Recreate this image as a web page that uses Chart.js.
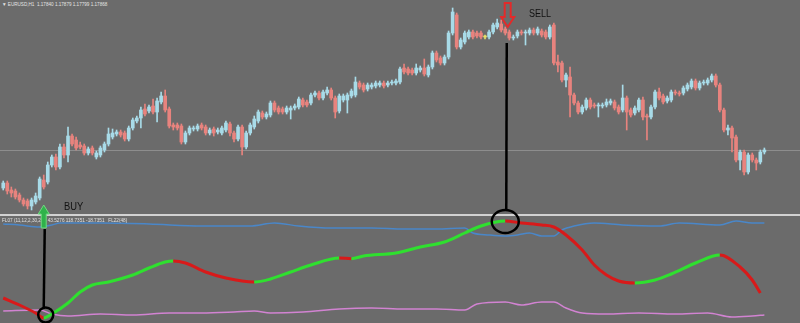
<!DOCTYPE html>
<html>
<head>
<meta charset="utf-8">
<script src="https://cdn.jsdelivr.net/npm/chart.js@4/dist/chart.umd.min.js"></script>
<style>
html, body { margin: 0; padding: 0; background: #6b6b6b; overflow: hidden; }
#wrap { position: relative; width: 800px; height: 323px; background: #6b6b6b; font-family: "Liberation Sans", Arial, sans-serif; }
#lower { position: absolute; left: 0; top: 216px; z-index: 1; }
#sep { position: absolute; left: 0; top: 214px; width: 800px; height: 2px; background: #d2d2d2; z-index: 1; }
#upper { position: absolute; left: 0; top: 0; z-index: 3; }
.lbl { position: absolute; white-space: nowrap; line-height: 1; transform-origin: left top; }
#title { left: 2px; top: 2px; font-size: 5px; color: #e4e4e4; z-index: 2; transform: scaleX(0.92); }
#ind { left: 2px; top: 218px; font-size: 5px; color: #e0e0e0; z-index: 2; transform: scaleX(0.93); }
#buy { left: 64px; top: 201px; font-size: 11px; color: #111; z-index: 4; transform: scaleX(0.85); }
#sell { left: 529px; top: 9px; font-size: 10px; color: #111; z-index: 4; transform: scaleX(0.9); }
</style>
</head>
<body>
<div id="wrap">
  <div id="title" class="lbl">▼ EURUSD,H1&nbsp; 1.17840 1.17879 1.17799 1.17868</div>
  <canvas id="lower" width="800" height="107"></canvas>
  <div id="sep"></div>
  <div id="ind" class="lbl">FL07 (11,12,2,30,2,5) 43.5276 118.7351 -18.7351&nbsp;&nbsp; FL22(48)</div>
  <canvas id="upper" width="800" height="323"></canvas>
  <div id="buy" class="lbl">BUY</div>
  <div id="sell" class="lbl">SELL</div>
</div>
<script>
// EURUSD H1 candles, one entry per bar
var candleOpen = [
  1.1749,1.1754,1.1747,1.1746,1.1742,1.1737,1.1736,1.1731,1.1735,1.1739,
  1.1757,1.1755,1.1772,1.1780,1.1770,1.1790,1.1782,1.1801,1.1797,1.1792,
  1.1791,1.1784,1.1789,1.1780,1.1782,1.1787,1.1793,1.1800,1.1803,1.1805,
  1.1804,1.1798,1.1809,1.1816,1.1819,1.1828,1.1826,1.1831,1.1825,1.1835,
  1.1841,1.1828,1.1812,1.1812,1.1811,1.1795,1.1804,1.1808,1.1808,1.1812,
  1.1810,1.1804,1.1808,1.1805,1.1804,1.1807,1.1813,1.1804,1.1798,1.1810,
  1.1790,1.1804,1.1810,1.1816,1.1824,1.1820,1.1822,1.1834,1.1829,1.1828,
  1.1825,1.1827,1.1829,1.1830,1.1837,1.1835,1.1834,1.1842,1.1844,1.1839,
  1.1844,1.1847,1.1839,1.1826,1.1837,1.1837,1.1841,1.1842,1.1854,1.1852,
  1.1848,1.1850,1.1851,1.1852,1.1854,1.1852,1.1854,1.1854,1.1855,1.1869,
  1.1868,1.1867,1.1864,1.1867,1.1869,1.1862,1.1870,1.1884,1.1879,1.1874,
  1.1880,1.1904,1.1922,1.1890,1.1895,1.1900,1.1905,1.1904,1.1904,1.1900,
  1.1900,1.1905,1.1910,1.1913,1.1908,1.1905,1.1899,1.1901,1.1905,1.1904,
  1.1904,1.1907,1.1904,1.1906,1.1905,1.1900,1.1912,1.1875,1.1874,1.1857,
  1.1860,1.1842,1.1834,1.1825,1.1829,1.1837,1.1832,1.1831,1.1831,1.1832,
  1.1834,1.1835,1.1830,1.1827,1.1839,1.1827,1.1824,1.1827,1.1837,1.1821,
  1.1820,1.1830,1.1845,1.1841,1.1836,1.1837,1.1845,1.1844,1.1844,1.1848,
  1.1850,1.1856,1.1849,1.1854,1.1854,1.1857,1.1861,1.1852,1.1827,1.1807,
  1.1809,1.1800,1.1777,1.1785,1.1765,1.1782,1.1777,1.1775,1.1785
];
var candleHigh = [
  1.1756,1.1756,1.1750,1.1748,1.1744,1.1739,1.1738,1.1739,1.1744,1.1760,
  1.1762,1.1775,1.1782,1.1783,1.1793,1.1793,1.1810,1.1803,1.1800,1.1795,
  1.1793,1.1790,1.1791,1.1786,1.1791,1.1795,1.1809,1.1808,1.1807,1.1807,
  1.1806,1.1811,1.1819,1.1821,1.1830,1.1833,1.1832,1.1838,1.1839,1.1845,
  1.1847,1.1830,1.1814,1.1814,1.1813,1.1806,1.1811,1.1811,1.1813,1.1814,
  1.1812,1.1809,1.1810,1.1809,1.1811,1.1816,1.1815,1.1806,1.1812,1.1812,
  1.1806,1.1814,1.1821,1.1827,1.1826,1.1825,1.1836,1.1836,1.1831,1.1830,
  1.1831,1.1831,1.1833,1.1840,1.1839,1.1837,1.1844,1.1846,1.1846,1.1847,
  1.1850,1.1849,1.1841,1.1843,1.1843,1.1844,1.1848,1.1860,1.1856,1.1854,
  1.1854,1.1854,1.1856,1.1856,1.1856,1.1856,1.1857,1.1858,1.1870,1.1873,
  1.1870,1.1869,1.1873,1.1871,1.1878,1.1872,1.1886,1.1886,1.1881,1.1882,
  1.1906,1.1929,1.1924,1.1899,1.1906,1.1907,1.1907,1.1906,1.1906,1.1902,
  1.1907,1.1914,1.1918,1.1917,1.1910,1.1907,1.1902,1.1907,1.1907,1.1907,
  1.1909,1.1909,1.1910,1.1908,1.1907,1.1912,1.1914,1.1882,1.1876,1.1864,
  1.1870,1.1844,1.1836,1.1832,1.1839,1.1839,1.1834,1.1834,1.1834,1.1838,
  1.1838,1.1837,1.1832,1.1852,1.1841,1.1829,1.1831,1.1839,1.1840,1.1823,
  1.1832,1.1847,1.1849,1.1843,1.1841,1.1847,1.1847,1.1846,1.1851,1.1854,
  1.1858,1.1858,1.1856,1.1857,1.1859,1.1863,1.1863,1.1854,1.1829,1.1812,
  1.1811,1.1802,1.1787,1.1787,1.1784,1.1784,1.1779,1.1787,1.1789
];
var candleLow = [
  1.1747,1.1743,1.1740,1.1738,1.1735,1.1731,1.1728,1.1727,1.1733,1.1737,
  1.1748,1.1753,1.1770,1.1767,1.1768,1.1779,1.1775,1.1791,1.1787,1.1788,
  1.1782,1.1782,1.1782,1.1778,1.1780,1.1785,1.1791,1.1798,1.1801,1.1800,
  1.1796,1.1796,1.1807,1.1814,1.1809,1.1821,1.1824,1.1823,1.1815,1.1833,
  1.1825,1.1809,1.1807,1.1807,1.1793,1.1793,1.1802,1.1806,1.1806,1.1807,
  1.1802,1.1802,1.1801,1.1803,1.1802,1.1805,1.1801,1.1795,1.1796,1.1782,
  1.1788,1.1802,1.1808,1.1814,1.1818,1.1818,1.1820,1.1825,1.1823,1.1823,
  1.1823,1.1818,1.1827,1.1828,1.1830,1.1830,1.1832,1.1840,1.1837,1.1837,
  1.1842,1.1837,1.1819,1.1824,1.1835,1.1824,1.1839,1.1840,1.1848,1.1845,
  1.1846,1.1848,1.1849,1.1850,1.1849,1.1850,1.1852,1.1852,1.1853,1.1863,
  1.1862,1.1862,1.1862,1.1865,1.1861,1.1860,1.1868,1.1875,1.1872,1.1872,
  1.1878,1.1902,1.1888,1.1888,1.1893,1.1898,1.1898,1.1899,1.1898,1.1898,
  1.1898,1.1903,1.1908,1.1905,1.1902,1.1897,1.1897,1.1899,1.1902,1.1892,
  1.1902,1.1902,1.1902,1.1900,1.1898,1.1898,1.1872,1.1865,1.1855,1.1850,
  1.1820,1.1832,1.1823,1.1823,1.1827,1.1828,1.1829,1.1820,1.1829,1.1830,
  1.1832,1.1827,1.1823,1.1825,1.1807,1.1820,1.1822,1.1825,1.1817,1.1797,
  1.1818,1.1828,1.1837,1.1833,1.1834,1.1835,1.1842,1.1841,1.1842,1.1846,
  1.1848,1.1847,1.1847,1.1852,1.1852,1.1855,1.1850,1.1825,1.1805,1.1802,
  1.1785,1.1775,1.1767,1.1762,1.1763,1.1775,1.1767,1.1773,1.1783
];
var candleClose = [
  1.1754,1.1746,1.1744,1.1740,1.1737,1.1733,1.1731,1.1737,1.1741,1.1758,
  1.1750,1.1772,1.1780,1.1770,1.1790,1.1782,1.1801,1.1793,1.1789,1.1790,
  1.1784,1.1788,1.1784,1.1784,1.1789,1.1793,1.1803,1.1804,1.1805,1.1802,
  1.1798,1.1809,1.1817,1.1819,1.1827,1.1823,1.1830,1.1825,1.1836,1.1841,
  1.1827,1.1811,1.1810,1.1809,1.1795,1.1804,1.1809,1.1809,1.1811,1.1809,
  1.1804,1.1807,1.1804,1.1807,1.1809,1.1814,1.1804,1.1798,1.1810,1.1790,
  1.1804,1.1812,1.1818,1.1825,1.1820,1.1823,1.1834,1.1827,1.1825,1.1825,
  1.1829,1.1829,1.1831,1.1838,1.1832,1.1832,1.1842,1.1844,1.1839,1.1845,
  1.1847,1.1839,1.1825,1.1841,1.1841,1.1842,1.1846,1.1855,1.1850,1.1847,
  1.1852,1.1852,1.1854,1.1854,1.1851,1.1854,1.1855,1.1856,1.1868,1.1865,
  1.1864,1.1864,1.1869,1.1869,1.1863,1.1870,1.1884,1.1877,1.1874,1.1880,
  1.1904,1.1925,1.1890,1.1897,1.1904,1.1905,1.1900,1.1901,1.1900,1.1900,
  1.1905,1.1912,1.1914,1.1907,1.1904,1.1899,1.1900,1.1905,1.1904,1.1905,
  1.1907,1.1904,1.1908,1.1902,1.1900,1.1910,1.1874,1.1872,1.1857,1.1862,
  1.1842,1.1834,1.1825,1.1830,1.1837,1.1830,1.1831,1.1832,1.1832,1.1835,
  1.1836,1.1829,1.1825,1.1839,1.1825,1.1822,1.1829,1.1837,1.1820,1.1820,
  1.1830,1.1845,1.1839,1.1835,1.1839,1.1845,1.1844,1.1843,1.1849,1.1852,
  1.1856,1.1849,1.1854,1.1855,1.1857,1.1861,1.1852,1.1827,1.1807,1.1809,
  1.1799,1.1777,1.1785,1.1765,1.1782,1.1777,1.1774,1.1785,1.1787
];

// lower pane indicator, sampled at bar numbers
var mainBars = [0,4,8,10,12, 16,19,22,26,32, 36,40,42,45,50, 55,62,66,71,76,
  83,86,89,97,103, 109,114,118,124,128, 133,136,139,143,146, 149,152,156,161,165, 171,177,182,185,187];
var mainValues = [7,-3.5,-15.5,-23,-17, -0.5,16,26.5,31,41.5, 52,61,62.5,59.5,46, 37,31,35.5,46,56.5,
  67,66,70,74.5,83.5, 91,104.5,115,122.5,119.5, 116.5,113.5,101.5,79,56.5, 41.5,32.5,29.5,34,43, 59.5,71.5,53.5,34,14.5];
var blueBars = [0,4,9,12,14, 24,36,49,61,67, 73,81,91,99,107, 114,116,120,124,127,
  130,133,136,138,141, 146,153,162,167,177, 181,185,188];
var blueValues = [118,116.5,113.5,116.5,119.5, 119.5,118,115,115,119.5, 115,112,112,110.5,110.5, 112,104.5,101.5,100,101.5,
  104.5,100,100,109,115, 119.5,116.5,115,119.5,116.5, 122.5,119.5,119.5];
var pinkBars = [0,9,12,16,24, 32,41,49,57,62, 66,74,83,91,99, 107,114,117,124,128,
  133,136,139,143,149, 157,166,174,180,185, 188];
var pinkValues = [-12.5,-11,-17,-20,-17, -18.5,-15.5,-15.5,-14,-12.5, -15.5,-14,-9.5,-8,-9.5, -9.5,-11,-2,1,-3.5,
  1,1,-8,-15.5,-17, -15.5,-17,-15.5,-21.5,-20, -18.5];

var buyBar = 10;
var sellBar = 124;

var upColor = '#a8dbe8';
var downColor = '#e8837e';
var dojiColor = '#e6df6a';
var lineUp = '#2fe02f';
var lineDown = '#d81a1a';

function points(bars, values) {
    return bars.map(function (b, i) { return { x: b, y: values[i] }; });
}

var candleColors = candleOpen.map(function (o, i) {
    if (candleClose[i] > o) return upColor;
    if (candleClose[i] < o) return downColor;
    return dojiColor;
});
var bodies = candleOpen.map(function (o, i) { return { x: i, y: [o, candleClose[i]] }; });
var wicks = candleLow.map(function (l, i) { return { x: i, y: [l, candleHigh[i]] }; });

var xRange = { min: -0.8, max: 196.8 };

var lowerChart = new Chart(document.getElementById('lower').getContext('2d'), {
    type: 'line',
    data: {
        datasets: [{
            data: points(mainBars, mainValues),
            borderWidth: 3,
            borderColor: lineUp,
            segment: {
                borderColor: function (c) { return c.p1.parsed.y < c.p0.parsed.y ? lineDown : lineUp; }
            },
            cubicInterpolationMode: 'monotone'
        }, {
            data: points(blueBars, blueValues),
            borderWidth: 1.5,
            borderColor: '#4a87c9',
            cubicInterpolationMode: 'monotone'
        }, {
            data: points(pinkBars, pinkValues),
            borderWidth: 1.5,
            borderColor: '#d283d2',
            cubicInterpolationMode: 'monotone'
        }]
    },
    options: {
        responsive: false,
        animation: false,
        layout: { padding: 0 },
        elements: { point: { radius: 0 } },
        plugins: { legend: { display: false }, tooltip: { enabled: false } },
        scales: {
            x: { type: 'linear', display: false, min: xRange.min, max: xRange.max },
            y: { display: false, min: -30.5, max: 130 }
        }
    }
});

var bidLine = {
    id: 'bidLine',
    beforeDatasetsDraw: function (chart) {
        var ctx = chart.ctx, a = chart.chartArea;
        var y = Math.round(chart.scales.y.getPixelForValue(candleClose[candleClose.length - 1])) + 0.5;
        ctx.save();
        ctx.strokeStyle = '#8d8d8d';
        ctx.lineWidth = 1;
        ctx.beginPath();
        ctx.moveTo(a.left, y);
        ctx.lineTo(a.right, y);
        ctx.stroke();
        ctx.restore();
    }
};

// hand drawn marks: arrows, guide lines and circles
var signalMarks = {
    id: 'signalMarks',
    afterDraw: function (chart) {
        var ctx = chart.ctx, xs = chart.scales.x, ys = chart.scales.y;
        var lx = lowerChart.scales.x, ly = lowerChart.scales.y;
        var lowerTop = 216;
        ctx.save();

        // sell arrow above the top
        var ax = xs.getPixelForValue(sellBar + 0.6);
        var tip = ys.getPixelForValue(candleHigh[sellBar]);
        ctx.beginPath();
        ctx.moveTo(ax - 3, tip - 24);
        ctx.lineTo(ax + 3, tip - 24);
        ctx.lineTo(ax + 3, tip - 10);
        ctx.lineTo(ax + 6.5, tip - 10);
        ctx.lineTo(ax, tip);
        ctx.lineTo(ax - 6.5, tip - 10);
        ctx.lineTo(ax - 3, tip - 10);
        ctx.closePath();
        ctx.strokeStyle = '#e32a2a';
        ctx.lineWidth = 2;
        ctx.stroke();

        // sell guide line and circle
        var scx = lx.getPixelForValue(sellBar);
        var scy = lowerTop + ly.getPixelForValue(mainValues[mainBars.indexOf(sellBar)]);
        ctx.strokeStyle = '#000';
        ctx.lineWidth = 2.5;
        ctx.beginPath();
        ctx.moveTo(xs.getPixelForValue(sellBar) + 1.5, ys.getPixelForValue(candleLow[sellBar + 1]) + 3);
        ctx.lineTo(scx + 1, scy - 11.5);
        ctx.stroke();
        ctx.beginPath();
        ctx.ellipse(scx, scy + 0.5, 13.5, 11.5, 0, 0, Math.PI * 2);
        ctx.stroke();

        // buy arrow
        var bx = xs.getPixelForValue(buyBar);
        var base = chart.chartArea.bottom;
        ctx.beginPath();
        ctx.moveTo(bx, base - 9);
        ctx.lineTo(bx + 5.5, base);
        ctx.lineTo(bx + 2.5, base);
        ctx.lineTo(bx + 2.5, base + 14);
        ctx.lineTo(bx - 2.5, base + 14);
        ctx.lineTo(bx - 2.5, base);
        ctx.lineTo(bx - 5.5, base);
        ctx.closePath();
        ctx.fillStyle = '#2fb24a';
        ctx.fill();
        ctx.strokeStyle = '#72d882';
        ctx.lineWidth = 1;
        ctx.stroke();

        // buy guide line and circle
        var bcx = lx.getPixelForValue(buyBar) + 2;
        var bcy = lowerTop + ly.getPixelForValue(mainValues[mainBars.indexOf(buyBar)]) - 3;
        ctx.strokeStyle = '#000';
        ctx.lineWidth = 2.5;
        ctx.beginPath();
        ctx.moveTo(bx + 1, base + 15);
        ctx.lineTo(bcx - 2, bcy - 7.5);
        ctx.stroke();
        ctx.beginPath();
        ctx.arc(bcx, bcy, 7.5, 0, Math.PI * 2);
        ctx.stroke();

        ctx.restore();
    }
};

var upperChart = new Chart(document.getElementById('upper').getContext('2d'), {
    type: 'bar',
    data: {
        datasets: [{
            data: bodies,
            backgroundColor: candleColors,
            grouped: false,
            categoryPercentage: 1,
            barPercentage: 1,
            maxBarThickness: 3,
            minBarLength: 1
        }, {
            data: wicks,
            backgroundColor: candleColors,
            grouped: false,
            categoryPercentage: 1,
            barPercentage: 1,
            maxBarThickness: 1
        }]
    },
    options: {
        responsive: false,
        animation: false,
        layout: { padding: { left: 0, right: 0, top: 0, bottom: 109 } },
        plugins: { legend: { display: false }, tooltip: { enabled: false } },
        scales: {
            x: { type: 'linear', display: false, offset: false, min: xRange.min, max: xRange.max },
            y: { display: false, min: 1.1723, max: 1.1937 }
        }
    },
    plugins: [bidLine, signalMarks]
});
</script>
</body>
</html>
